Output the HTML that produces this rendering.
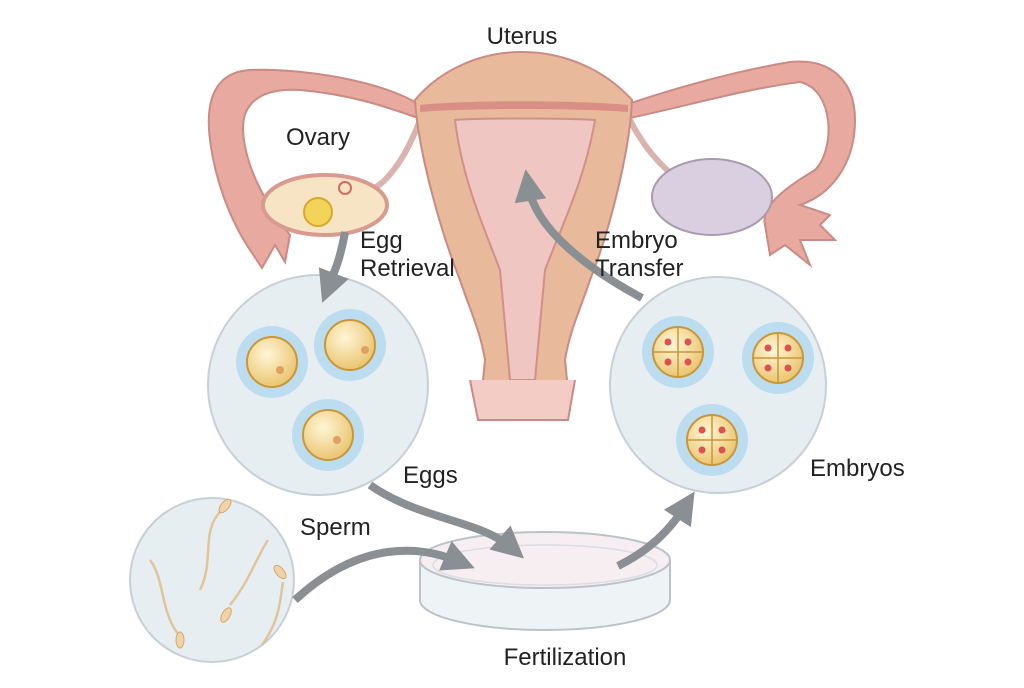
<!DOCTYPE html>
<html><head><meta charset="utf-8"><style>
html,body{margin:0;padding:0;background:#fff;}
svg{display:block}
text{font-family:"Liberation Sans",sans-serif;font-size:24px;fill:#222;}
</style></head><body>
<svg width="1024" height="688" viewBox="0 0 1024 688" xmlns="http://www.w3.org/2000/svg">
<defs>
<marker id="ah" markerWidth="4" markerHeight="4" refX="2" refY="2" orient="auto" markerUnits="strokeWidth">
<path d="M0,0 L4,2 L0,4 z" fill="#8a8f93"/></marker>
<radialGradient id="egg" cx="0.4" cy="0.35" r="0.7"><stop offset="0" stop-color="#fff6d6"/><stop offset="1" stop-color="#e9c26a"/></radialGradient>
</defs>
<!-- fallopian tubes -->
<path d="M420,105 C380,80 300,68 250,70 C215,72 205,100 210,140 C215,180 230,220 250,250 L262,268 L275,245 L285,262 L290,235 C270,210 245,170 243,130 C242,100 265,88 300,90 C350,94 390,108 418,118 Z" fill="#e8a9a0" stroke="#c98b84" stroke-width="2"/>
<path d="M625,105 C670,90 730,72 790,62 C830,58 855,80 855,120 C855,165 830,195 800,205 L830,215 L820,225 L835,240 L800,240 L810,265 L785,245 L770,255 L765,225 C760,205 790,185 815,170 C835,150 835,90 800,82 C750,88 690,105 630,118 Z" fill="#e8a9a0" stroke="#c98b84" stroke-width="2"/>
<path d="M630,120 C650,160 680,185 700,190" stroke="#d9b3ad" stroke-width="6" fill="none"/>
<path d="M420,120 C405,160 385,185 370,190" stroke="#d9b3ad" stroke-width="6" fill="none"/>
<!-- ovaries -->
<ellipse cx="325" cy="205" rx="62" ry="30" fill="#f6e4c4" stroke="#d99a8f" stroke-width="4"/>
<circle cx="318" cy="212" r="14" fill="#f2d45a" stroke="#d7a82c" stroke-width="2"/>
<circle cx="345" cy="188" r="6" fill="none" stroke="#d46a62" stroke-width="2"/>
<ellipse cx="712" cy="197" rx="60" ry="38" fill="#d9cfe0" stroke="#a89ab0" stroke-width="2"/>
<!-- uterus -->
<path d="M415,100 C440,70 480,52 522,52 C565,52 605,70 632,100 C630,150 610,230 590,280 C580,310 570,330 565,360 L570,410 L480,410 L485,360 C480,330 470,310 460,280 C440,230 418,150 415,100 Z" fill="#e8b99a" stroke="#c98b84" stroke-width="2"/>
<path d="M420,105 C470,100 575,100 628,105 L628,112 C575,108 470,108 420,112 Z" fill="#d98f86"/>
<path d="M455,120 C480,118 565,118 595,120 C585,180 560,230 545,270 L535,380 L510,380 L500,270 C485,230 462,180 455,120 Z" fill="#f0c6c2" stroke="#d0908a" stroke-width="2"/>
<path d="M470,380 L478,420 L568,420 L575,380" fill="#f3ccc5" stroke="#c98b84" stroke-width="2"/>
<!-- circles -->
<circle cx="318" cy="385" r="110" fill="#e7eef2" stroke="#c6d0d6" stroke-width="2"/>
<circle cx="718" cy="385" r="108" fill="#e7eef2" stroke="#c6d0d6" stroke-width="2"/>
<circle cx="212" cy="580" r="82" fill="#e7eef2" stroke="#c6d0d6" stroke-width="2"/>
<!-- eggs -->
<g>
<circle cx="272" cy="362" r="36" fill="#bcdcf0"/><circle cx="272" cy="362" r="25" fill="url(#egg)" stroke="#c9973a" stroke-width="2"/><circle cx="280" cy="370" r="4" fill="#e0a060"/>
<circle cx="350" cy="345" r="36" fill="#bcdcf0"/><circle cx="350" cy="345" r="25" fill="url(#egg)" stroke="#c9973a" stroke-width="2"/><circle cx="365" cy="350" r="4" fill="#e0a060"/>
<circle cx="328" cy="435" r="36" fill="#bcdcf0"/><circle cx="328" cy="435" r="25" fill="url(#egg)" stroke="#c9973a" stroke-width="2"/><circle cx="337" cy="440" r="4" fill="#e0a060"/>
</g>
<g>
<circle cx="678" cy="352" r="36" fill="#bcdcf0"/><circle cx="678" cy="352" r="25" fill="url(#egg)" stroke="#c9973a" stroke-width="2"/>
<circle cx="778" cy="358" r="36" fill="#bcdcf0"/><circle cx="778" cy="358" r="25" fill="url(#egg)" stroke="#c9973a" stroke-width="2"/>
<circle cx="712" cy="440" r="36" fill="#bcdcf0"/><circle cx="712" cy="440" r="25" fill="url(#egg)" stroke="#c9973a" stroke-width="2"/>
<g stroke="#c9973a" stroke-width="1.5">
<path d="M653,352 H703 M678,327 V377"/><path d="M753,358 H803 M778,333 V383"/><path d="M687,440 H737 M712,415 V465"/>
</g>
<g fill="#d9534f">
<circle cx="668" cy="342" r="3.5"/><circle cx="688" cy="342" r="3.5"/><circle cx="668" cy="362" r="3.5"/><circle cx="688" cy="362" r="3.5"/>
<circle cx="768" cy="348" r="3.5"/><circle cx="788" cy="348" r="3.5"/><circle cx="768" cy="368" r="3.5"/><circle cx="788" cy="368" r="3.5"/>
<circle cx="702" cy="430" r="3.5"/><circle cx="722" cy="430" r="3.5"/><circle cx="702" cy="450" r="3.5"/><circle cx="722" cy="450" r="3.5"/>
</g>
</g>
<!-- sperm -->
<g stroke="#e2c49a" stroke-width="2.5" fill="none">
<path d="M150,560 C165,580 160,610 178,634"/><path d="M200,590 C215,560 200,530 222,510"/>
<path d="M230,605 C250,580 255,560 268,540"/><path d="M262,645 C280,620 280,600 283,582"/>
</g>
<g fill="#f0d3a8" stroke="#d4a86a" stroke-width="1">
<ellipse cx="180" cy="640" rx="4" ry="8"/><ellipse cx="225" cy="506" rx="4" ry="8" transform="rotate(40 225 506)"/>
<ellipse cx="226" cy="615" rx="4" ry="8" transform="rotate(30 226 615)"/><ellipse cx="280" cy="572" rx="4" ry="8" transform="rotate(-40 280 572)"/>
</g>
<!-- dish -->
<path d="M420,560 L420,600 A125,30 0 0 0 670,600 L670,560" fill="#eef3f5" stroke="#b9c3c8" stroke-width="2"/>
<ellipse cx="545" cy="560" rx="125" ry="28" fill="#f7eef1" stroke="#b9c3c8" stroke-width="2"/>
<ellipse cx="545" cy="565" rx="112" ry="20" fill="none" stroke="#d8dee2" stroke-width="1.5"/>
<!-- arrows -->
<g stroke="#8a8f93" stroke-width="8" fill="none" marker-end="url(#ah)">
<path d="M345,232 C340,260 335,270 328,288"/>
<path d="M642,298 C590,270 535,230 528,185"/>
<path d="M370,485 C420,520 480,520 512,548"/>
<path d="M295,600 C360,540 420,545 460,562"/>
<path d="M618,566 C650,550 670,530 686,505"/>
</g>
<!-- labels -->
<text x="522" y="44" text-anchor="middle">Uterus</text>
<text x="318" y="145" text-anchor="middle">Ovary</text>
<text x="360" y="248">Egg</text>
<text x="360" y="276">Retrieval</text>
<text x="595" y="248">Embryo</text>
<text x="595" y="276">Transfer</text>
<text x="403" y="483">Eggs</text>
<text x="810" y="476">Embryos</text>
<text x="300" y="535">Sperm</text>
<text x="565" y="665" text-anchor="middle">Fertilization</text>
</svg>
</body></html>
